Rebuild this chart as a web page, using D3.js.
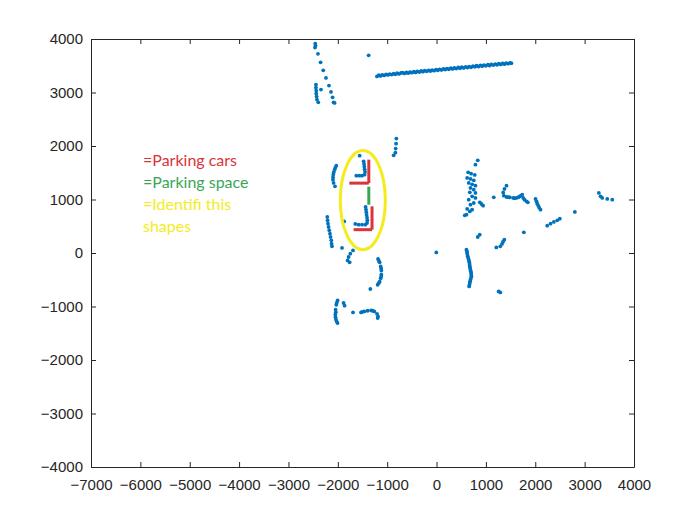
<!DOCTYPE html>
<html>
<head>
<meta charset="utf-8">
<script src="https://cdn.jsdelivr.net/npm/d3@7"></script>
<style>
  body { margin: 0; background: #fff; }
  svg { display: block; }
</style>
</head>
<body>
<div id="chart"></div>
<script>
// tick labels
const xTicks = [-7000, -6000, -5000, -4000, -3000, -2000, -1000, 0, 1000, 2000, 3000, 4000];
const yTicks = [-4000, -3000, -2000, -1000, 0, 1000, 2000, 3000, 4000];

// scan points, grouped by cluster [x, y]
const topLeft = [
  [-2457, 3914], [-2452, 3877], [-2462, 3839], [-2402, 3722], [-2349, 3564], [-2295, 3415],
  [-2240, 3273], [-2179, 3129], [-2138, 3011], [-2106, 2910], [-2086, 2817], [-2065, 2805],
  [-2443, 3147], [-2443, 3091], [-2437, 3035], [-2437, 2979], [-2430, 2923], [-2422, 2867],
  [-2396, 2817], [-2341, 3054], [-1376, 3695]
];

const wallX = [-1207, -1170, -1135, -1100, -1060, -1020, -985, -950, -910, -870, -835, -800, -760, -720,
  -690, -650, -610, -575, -540, -500, -460, -425, -390, -350, -310, -275, -240, -200, -160, -125, -90,
  -50, -10, 25, 60, 100, 140, 175, 210, 250, 290, 325, 360, 400, 440, 475, 510, 550, 590, 625, 660, 700,
  740, 775, 810, 850, 890, 925, 960, 1000, 1040, 1075, 1110, 1150, 1190, 1225, 1260, 1300, 1340, 1375,
  1410, 1450, 1490, 1516];
const wallY = [3300, 3325, 3310, 3330, 3320, 3340, 3328, 3345, 3335, 3352, 3340, 3360, 3348, 3365,
  3372, 3356, 3375, 3362, 3380, 3370, 3388, 3376, 3395, 3383, 3402, 3390, 3410, 3395, 3415, 3402, 3420,
  3408, 3428, 3415, 3434, 3422, 3442, 3428, 3448, 3435, 3455, 3440, 3460, 3447, 3468, 3452, 3472, 3460,
  3480, 3466, 3485, 3472, 3494, 3480, 3500, 3486, 3506, 3492, 3512, 3498, 3520, 3505, 3525, 3512, 3532,
  3518, 3538, 3525, 3545, 3530, 3550, 3538, 3555, 3548];

const middle = [
  // hook upper right
  [-814, 2138], [-820, 2044], [-828, 1951], [-834, 1876], [-869, 1825],
  // left arc
  [-2031, 1633], [-2051, 1595], [-2065, 1558], [-2082, 1511], [-2092, 1465], [-2096, 1418],
  [-2098, 1371], [-2086, 1309], [-2057, 1246],
  // upper parked car
  [-1558, 1820], [-1477, 1713], [-1469, 1665], [-1463, 1614], [-1457, 1564], [-1449, 1515],
  [-1457, 1464], [-1510, 1446], [-1564, 1446], [-1625, 1446],
  // lower parked car
  [-1437, 861], [-1429, 810], [-1423, 760], [-1417, 711], [-1408, 661], [-1402, 610],
  [-1408, 561], [-1443, 530], [-1510, 530], [-1579, 530], [-1646, 543], [-1869, 591],
  // left vertical
  [-2213, 673], [-2207, 610], [-2199, 548], [-2187, 486], [-2173, 423], [-2159, 361],
  [-2147, 299], [-2132, 236], [-2126, 174], [-2118, 124], [-1915, 94],
  // small arc
  [-1692, 49], [-1747, -13], [-1782, -75], [-1802, -138], [-1761, -175],
  // right arc
  [-1185, -112], [-1169, -144], [-1153, -175], [-1132, -250], [-1122, -288], [-1118, -325],
  [-1118, -400], [-1122, -437], [-1132, -474], [-1153, -536], [-1173, -564], [-1193, -593],
  [-1341, -673],
  // bottom group
  [-2005, -886], [-2021, -929], [-2031, -967], [-2045, -1060], [-2041, -1107], [-2051, -1154],
  [-2047, -1200], [-2037, -1247], [-2021, -1284], [-2005, -1309], [-1883, -935], [-1863, -985],
  [-1692, -1111], [-1530, -1111], [-1504, -1101], [-1463, -1092], [-1396, -1079], [-1327, -1073],
  [-1295, -1079], [-1260, -1092], [-1206, -1136], [-1185, -1186], [-1193, -1216]
];

const right = [
  [-5, 10],
  // dense column
  [835, 1732], [788, 1651], [640, 1508], [701, 1483], [774, 1459], [620, 1403], [687, 1384],
  [754, 1358], [652, 1309], [721, 1283], [788, 1259], [687, 1216], [754, 1184], [674, 1134],
  [788, 1122], [721, 1059], [652, 997], [788, 1029], [754, 935], [687, 903], [620, 823],
  [721, 810], [674, 778], [606, 717], [571, 704], [875, 947], [910, 916], [944, 885], [1159, 1040],
  // kerb to the right
  [1417, 1259], [1376, 1197], [1350, 1133], [1362, 1072], [1417, 1047], [1457, 1044], [1484, 1040],
  [1553, 1029], [1579, 1025], [1620, 1029], [1660, 1044], [1687, 1059], [1711, 1072], [1735, 1091],
  [1756, 1029], [1782, 997], [1823, 965], [1849, 947],
  [2005, 1010], [2025, 965], [2039, 922], [2060, 885], [2080, 847], [2106, 810],
  [1768, 386], [2242, 511], [2309, 548], [2376, 580], [2445, 610], [2498, 642], [2802, 767],
  [3288, 1122], [3323, 1059], [3357, 1029], [3458, 1010], [3560, 997],
  // lower right
  [835, 299], [875, 343], [1211, 105], [1292, 124], [1327, 169], [1347, 212], [1373, 249],
  [605, 62], [615, 34], [620, 0], [626, -31], [632, -63], [642, -94], [652, -125], [660, -157],
  [667, -187], [670, -219], [673, -250], [680, -280], [687, -312], [693, -343], [701, -374],
  [703, -406], [707, -437], [697, -468], [687, -499], [680, -530], [673, -561], [667, -593],
  [660, -624], [1258, -718], [1292, -736]
];

// hand-drawn annotation
const redLines = [
  [[-1372, 1745], [-1372, 1306]], [[-1767, 1306], [-1372, 1306]],
  [[-1307, 872], [-1307, 436]], [[-1680, 436], [-1307, 436]]
];
const greenLines = [[[-1372, 1240], [-1372, 903]]];
const ellipseCenter = [-1493, 988];
const ellipseRadii = [456, 926];
const noteLines = ["=Parking cars", "=Parking space", "=Identifi this", "shapes"];
const noteColors = ["#d8343a", "#3aa655", "#f4ec1c", "#f4ec1c"];

const width = 700, height = 525;
const margin = { top: 39, right: 66, bottom: 58, left: 91 };

const svg = d3.select("#chart").append("svg")
  .attr("width", width).attr("height", height);

const x = d3.scaleLinear().domain([-7000, 4000]).range([margin.left, width - margin.right]);
const y = d3.scaleLinear().domain([-4000, 4000]).range([height - margin.bottom, margin.top]);

const axisColor = "#262626";
const font = "'Liberation Sans', Arial, sans-serif";

// axes with inward ticks
const gx = svg.append("g").attr("transform", `translate(0,${y(-4000)})`)
  .call(d3.axisBottom(x).tickValues(xTicks).tickSizeInner(-5).tickSizeOuter(0).tickPadding(12).tickFormat(d3.format("d")));
const gy = svg.append("g").attr("transform", `translate(${x(-7000)},0)`)
  .call(d3.axisLeft(y).tickValues(yTicks).tickSizeInner(-5).tickSizeOuter(0).tickPadding(8).tickFormat(d3.format("d")));
const gxt = svg.append("g").attr("transform", `translate(0,${y(4000)})`)
  .call(d3.axisTop(x).tickValues(xTicks).tickSizeInner(-5).tickSizeOuter(0).tickFormat(""));
const gyr = svg.append("g").attr("transform", `translate(${x(4000)},0)`)
  .call(d3.axisRight(y).tickValues(yTicks).tickSizeInner(-5).tickSizeOuter(0).tickFormat(""));

[gx, gy, gxt, gyr].forEach(g => {
  g.selectAll("path, line").attr("stroke", axisColor);
  g.selectAll("text").attr("fill", axisColor).style("font-family", font).style("font-size", "15px");
});

// points
const allPoints = topLeft
  .concat(wallX.map((v, i) => [v, wallY[i]]))
  .concat(middle)
  .concat(right);

svg.append("g").selectAll("circle").data(allPoints).enter()
  .append("circle")
  .attr("cx", d => x(d[0]))
  .attr("cy", d => y(d[1]))
  .attr("r", 1.9)
  .attr("fill", "#0072BD");

// annotation marks
svg.append("g").selectAll("line.red").data(redLines).enter()
  .append("line")
  .attr("x1", d => x(d[0][0])).attr("y1", d => y(d[0][1]))
  .attr("x2", d => x(d[1][0])).attr("y2", d => y(d[1][1]))
  .attr("stroke", "#d8343a").attr("stroke-width", 3);

svg.append("g").selectAll("line.green").data(greenLines).enter()
  .append("line")
  .attr("x1", d => x(d[0][0])).attr("y1", d => y(d[0][1]))
  .attr("x2", d => x(d[1][0])).attr("y2", d => y(d[1][1]))
  .attr("stroke", "#3aa655").attr("stroke-width", 3);

svg.append("ellipse")
  .attr("cx", x(ellipseCenter[0]))
  .attr("cy", y(ellipseCenter[1]))
  .attr("rx", x(ellipseCenter[0] + ellipseRadii[0]) - x(ellipseCenter[0]))
  .attr("ry", y(ellipseCenter[1]) - y(ellipseCenter[1] + ellipseRadii[1]))
  .attr("fill", "none")
  .attr("stroke", "#f4ec1c")
  .attr("stroke-width", 3);

svg.append("g").selectAll("text").data(noteLines).enter()
  .append("text")
  .attr("x", 143)
  .attr("y", (d, i) => 166 + i * 22)
  .attr("fill", (d, i) => noteColors[i])
  .style("font-family", "Lato, 'Open Sans', sans-serif")
  .style("font-size", "16px")
  .text(d => d);
</script>
</body>
</html>
